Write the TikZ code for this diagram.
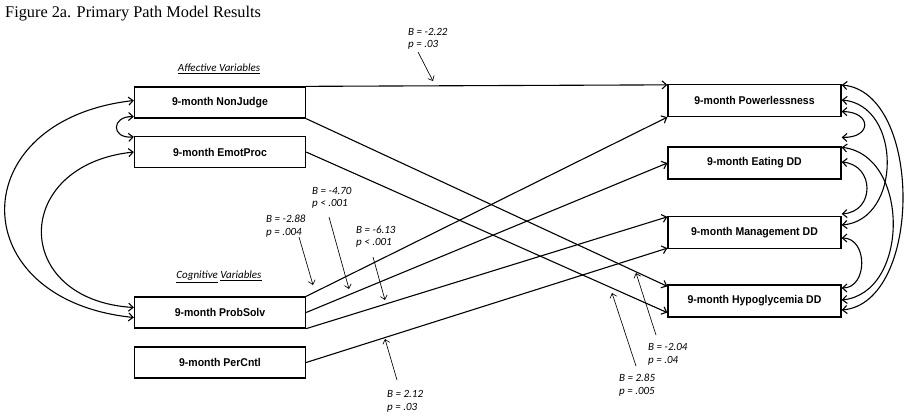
\documentclass[tikz,border=0pt]{standalone}
\usepackage{fontspec}
\setmainfont{Liberation Serif}
\newfontfamily\boxfont[FakeStretch=0.93]{Liberation Sans}
\newfontfamily\labfont{Carlito}
\usetikzlibrary{arrows.meta}
\begin{document}
\begin{tikzpicture}[x=1pt,y=-1pt,
  varbox/.style={draw, line width=1.3pt, minimum height=31pt, inner sep=0pt,
    font=\boxfont\bfseries\fontsize{11.3}{13}\selectfont},
  lbox/.style={varbox, minimum width=171pt},
  rbox/.style={varbox, minimum width=173pt, minimum height=32pt},
  conn/.style={line width=1.1pt, -{Straight Barb[length=4.5pt,width=8pt]}},
  corr/.style={line width=1.1pt, {Straight Barb[length=4.5pt,width=8pt]}-{Straight Barb[length=4.5pt,width=8pt]}},
  ptr/.style={line width=0.65pt, -{Straight Barb[length=4pt,width=7pt]}},
  est/.style={font=\labfont\itshape\fontsize{11}{12.5}\selectfont, align=left, anchor=west, inner sep=0pt},
  grp/.style={font=\labfont\itshape\fontsize{11}{13}\selectfont, inner sep=0pt}
]
\useasboundingbox (0,0) rectangle (906,418);
\fill[white] (0,0) rectangle (906,418);

\node[anchor=base west, inner sep=0pt, font=\fontsize{16.3}{18}\selectfont] (title) at (5,17) {Figure 2a. Primary Path Model Results};

\node[lbox] (nj) at (220,102.5) {9-month NonJudge};
\node[lbox] (ep) at (220,152) {9-month EmotProc};
\node[lbox] (ps) at (220,312.5) {9-month ProbSolv};
\node[lbox] (pc) at (220,362.5) {9-month PerCntl};
\node[rbox] (pw) at (754.5,100.5) {9-month Powerlessness};
\node[rbox] (ea) at (754.5,163) {9-month Eating DD};
\node[rbox] (mg) at (754.5,232.5) {9-month Management DD};
\node[rbox] (hy) at (754.5,301) {9-month Hypoglycemia DD};

\node[grp] (aff) at (219,69) {\underline{Affective Variables}};
\node[grp] (cog) at (219,277) {\underline{Cognitive} \underline{Variables}};

% paths
\draw[conn] (nj.north east) -- ([yshift=-1pt]pw.north west);
\draw[conn] (nj.south east) -- ([yshift=-2pt]hy.north west);
\draw[conn] (ep.east) -- ([yshift=5pt]hy.south west);
\draw[conn] (ps.north east) -- (pw.south west);
\draw[conn] (ps.east) -- (ea.west);
\draw[conn] (ps.south east) -- ([yshift=-1pt]mg.north west);
\draw[conn] (pc.east) -- ([yshift=1pt]mg.south west);

% left correlations
\draw[corr] ([yshift=2pt]nj.west) .. controls (-38,120) and (-38,300) .. ([yshift=-5pt]ps.west);
\draw[corr] (ep.west) .. controls (11,165) and (11,300) .. ([yshift=5pt]ps.west);
\draw[corr] ([yshift=2pt]nj.south west) .. controls (111,116) and (111,139) .. ([yshift=-1pt]ep.north west);

% right correlations
\draw[corr] ([yshift=-11pt]pw.east) .. controls (872,112) and (872,138) .. ([yshift=9pt]ea.north east);
\draw[corr] ([yshift=0.5pt]pw.east) .. controls (902,105) and (902,220) .. ([yshift=7.5pt]mg.east);
\draw[corr] ([yshift=15.5pt]pw.east) .. controls (923,92) and (923,303) .. ([yshift=-9pt]hy.east);
\draw[corr] ([yshift=1pt]ea.east) .. controls (875,165) and (875,212) .. ([yshift=2pt]mg.north east);
\draw[corr] ([yshift=-1pt]ea.north east) .. controls (910,155) and (910,293) .. ([yshift=1pt]hy.east);
\draw[corr] ([yshift=-5.5pt]mg.east) .. controls (868,238) and (868,288) .. ([yshift=13pt]hy.east);

% estimates
\node[est] (l1) at (408,39) {B = -2.22\\p = .03};
\node[est] (l2) at (266,226) {B = -2.88\\p = .004};
\node[est] (l3) at (312,198) {B = -4.70\\p < .001};
\node[est] (l4) at (356,236.5) {B = -6.13\\p < .001};
\node[est] (l5) at (387,401.5) {B = 2.12\\p = .03};
\node[est] (l6) at (648,354.5) {B = -2.04\\p = .04};
\node[est] (l7) at (619,385) {B = 2.85\\p = .005};

\coordinate (s1) at (418,52);  \coordinate (e1) at (433,81);
\coordinate (s2) at (299,237); \coordinate (e2) at (313,285);
\coordinate (s3) at (329,217); \coordinate (e3) at (349,289);
\coordinate (s4) at (373,257); \coordinate (e4) at (385,300);
\coordinate (s5) at (397,380); \coordinate (e5) at (385,339);
\coordinate (s6) at (656,335); \coordinate (e6) at (636,273);
\coordinate (s7) at (636,366); \coordinate (e7) at (612,293);
\draw[ptr] (s1) -- (e1);
\draw[ptr] (s2) -- (e2);
\draw[ptr] (s3) -- (e3);
\draw[ptr] (s4) -- (e4);
\draw[ptr] (s5) -- (e5);
\draw[ptr] (s6) -- (e6);
\draw[ptr] (s7) -- (e7);
\end{tikzpicture}
\end{document}
